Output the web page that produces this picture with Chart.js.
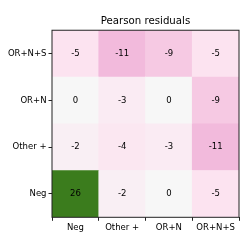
<!DOCTYPE html>
<html>
<head>
<meta charset="utf-8">
<script src="https://cdn.jsdelivr.net/npm/chart.js@4/dist/chart.umd.min.js"></script>
<style>
  html, body { margin: 0; padding: 0; background: #fff; }
  #wrap { width: 249px; height: 249px; }
</style>
</head>
<body>
<div id="wrap"><canvas id="resChart" width="249" height="249"></canvas></div>
<script>
// categories (columns left to right, rows bottom to top)
const cols = ['Neg', 'Other +', 'OR+N', 'OR+N+S'];
const rows = ['Neg', 'Other +', 'OR+N', 'OR+N+S'];

// residuals, one array per row, bottom row first
const rowNeg   = [26, -2, 0, -5];
const rowOther = [-2, -4, -3, -11];
const rowORN   = [0, -3, 0, -9];
const rowORNS  = [-5, -11, -9, -5];
const residuals = [rowNeg, rowOther, rowORN, rowORNS];

const vmax = 29;

// PiYG colormap stops
const piyg = [
    [142, 1, 82], [197, 27, 125], [222, 119, 174], [241, 182, 218], [253, 224, 239],
    [247, 247, 247], [230, 245, 208], [184, 225, 134], [127, 188, 65], [77, 146, 33], [39, 100, 25]
];

function cmap(v) {
    let t = (v + vmax) / (2 * vmax);
    t = Math.max(0, Math.min(1, t)) * 10;
    const i = Math.min(9, Math.floor(t));
    const f = t - i;
    const a = piyg[i], b = piyg[i + 1];
    const c = a.map((x, k) => Math.round(x + (b[k] - x) * f));
    return `rgb(${c[0]},${c[1]},${c[2]})`;
}

const font = 'DejaVu Sans';

// draws the frame and the numbers in each cell
const cellPlugin = {
    id: 'cellText',
    afterDatasetsDraw(chart) {
        const { ctx, chartArea, scales } = chart;
        ctx.save();
        ctx.font = `8.5px "${font}"`;
        ctx.fillStyle = '#000';
        ctx.textAlign = 'center';
        ctx.textBaseline = 'middle';
        residuals.forEach((vals, r) => {
            vals.forEach((v, c) => {
                const x = scales.x.getPixelForValue(c);
                const y = scales.y.getPixelForValue(r + 0.5);
                ctx.fillText(String(v), x, y);
            });
        });
        ctx.strokeStyle = '#222';
        ctx.lineWidth = 1;
        ctx.strokeRect(chartArea.left, chartArea.top, chartArea.right - chartArea.left, chartArea.bottom - chartArea.top);
        ctx.restore();
    }
};

const datasets = residuals.map((vals, r) => ({
    label: rows[r],
    data: vals.map(() => 1),
    backgroundColor: vals.map(cmap),
    borderWidth: 0,
    barPercentage: 1,
    categoryPercentage: 1
}));

const ctx = document.getElementById('resChart').getContext('2d');
new Chart(ctx, {
    type: 'bar',
    data: { labels: cols, datasets: datasets },
    options: {
        responsive: false,
        animation: false,
        layout: { padding: { left: 0, right: 10, top: 0, bottom: 0 } },
        plugins: {
            legend: { display: false },
            tooltip: { enabled: false },
            title: {
                display: true,
                fullSize: false,
                text: 'Pearson residuals',
                color: '#000',
                font: { family: font, size: 10.2, weight: 'normal' },
                padding: { top: 15, bottom: 3 }
            }
        },
        scales: {
            x: {
                stacked: true,
                grid: { drawOnChartArea: false, drawTicks: true, tickLength: 3.5, color: '#222' },
                border: { display: false },
                ticks: { color: '#000', font: { family: font, size: 8.5 }, padding: 2, maxRotation: 0 },
                afterFit(scale) { scale.height = 31.7; }
            },
            y: {
                stacked: true,
                min: 0,
                max: 4,
                grid: { drawOnChartArea: false, drawTicks: true, tickLength: 3.5, color: '#222' },
                border: { display: false },
                afterBuildTicks(scale) {
                    scale.ticks = rows.map((_, i) => ({ value: i + 0.5 }));
                },
                ticks: {
                    color: '#000',
                    font: { family: font, size: 8.5 },
                    padding: 2,
                    callback: (v) => rows[Math.floor(v)]
                },
                afterFit(scale) { scale.width = 52; }
            }
        }
    },
    plugins: [cellPlugin]
});
</script>
</body>
</html>
